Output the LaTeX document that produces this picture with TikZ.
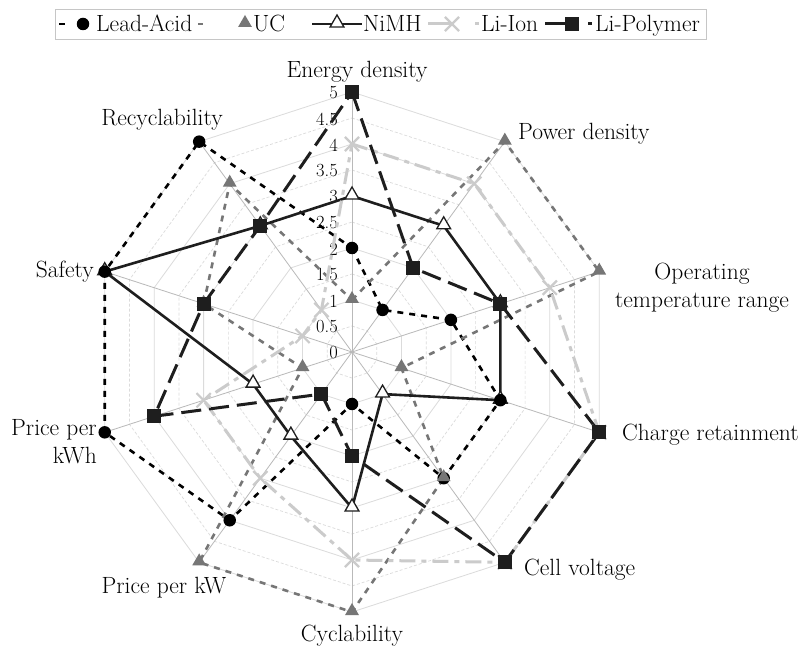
\documentclass[tikz,border=0pt]{standalone}
\usetikzlibrary{shapes.geometric,shapes.misc}
\definecolor{ucgray}{HTML}{767676}
\definecolor{lightgr}{HTML}{CBCBCB}
\definecolor{dark}{HTML}{1E1E1E}
\begin{document}
\begin{tikzpicture}[x=1pt,y=1pt,
  lbl/.style={inner sep=0pt,font=\fontsize{23.5}{28}\selectfont},
  tick/.style={inner sep=0pt,anchor=east,font=\fontsize{18.5}{20}\selectfont},
  gridmajor/.style={draw=gray!28,line width=0.8pt},
  gridminor/.style={draw=gray!28,line width=0.7pt,dash pattern=on 3pt off 2pt},
  spoke/.style={draw=gray!55,line width=0.8pt},
  leadline/.style={draw=black,line width=2.6pt,dash pattern=on 6pt off 6pt},
  ucline/.style={draw=ucgray,line width=2.6pt,dash pattern=on 6pt off 6pt},
  nimhline/.style={draw=dark,line width=2.6pt},
  lionline/.style={draw=lightgr,line width=3pt,dash pattern=on 16pt off 6pt on 5pt off 6pt},
  lipline/.style={draw=dark,line width=3pt,dash pattern=on 20pt off 8pt},
  leadmark/.style={circle,fill=black,minimum size=12.5pt,inner sep=0pt},
  ucmark/.style={regular polygon,regular polygon sides=3,fill=ucgray,minimum size=16pt,inner sep=0pt},
  nimhmark/.style={regular polygon,regular polygon sides=3,draw=dark,fill=white,line width=1.3pt,minimum size=16pt,inner sep=0pt},
  lionmark/.style={cross out,draw=lightgr,line width=2.2pt,minimum size=12pt,inner sep=0pt},
  lipmark/.style={rectangle,fill=dark,minimum size=14pt,inner sep=0pt}
]
\fill[white] (0,0) rectangle (803,648);
\useasboundingbox (0,0) rectangle (803,648);

% ---------- legend ----------
\draw[gray!45,line width=0.8pt] (55,609) rectangle (706,639);
\draw[leadline,dash pattern=] (59,624) -- (65,624);
\node[leadmark] (lgLA) at (83,624) {};
\node[lbl,anchor=base west] (lgLAt) at (96,616) {Lead-Acid};
\draw[ucline,dash pattern=] (198,624) -- (203,624);
\node[ucmark] (lgUC) at (245,625) {};
\node[lbl,anchor=base west] (lgUCt) at (253,616) {UC};
\coordinate (lgNa) at (312,624);
\coordinate (lgNb) at (362,624);
\draw[nimhline] (lgNa) -- (lgNb);
\node[nimhmark] (lgNI) at (337,625) {};
\node[lbl,anchor=base west] (lgNIt) at (363,616) {NiMH};
\coordinate (lgIa) at (428,624);
\coordinate (lgIb) at (450,624);
\draw[lionline,dash pattern=] (lgIa) -- (lgIb);
\node[lionmark] (lgLI) at (452,624) {};
\draw[lionline,dash pattern=] (475,624) -- (479,624);
\node[lbl,anchor=base west] (lgLIt) at (481,616) {Li-Ion};
\coordinate (lgPa) at (545,624);
\coordinate (lgPb) at (568,624);
\draw[lipline,dash pattern=] (lgPa) -- (lgPb);
\node[lipmark] (lgLP) at (572,624) {};
\draw[lipline,dash pattern=] (588,624) -- (592,624);
\node[lbl,anchor=base west] (lgLPt) at (595,616) {Li-Polymer};

% ---------- axis labels ----------
\node[lbl,anchor=base] (axE) at (357,570) {Energy density};
\node[lbl,anchor=base west] (axP) at (518,508) {Power density};
\node[lbl,anchor=center,align=center] (axT) at (702,360) {Operating\\temperature range};
\node[lbl,anchor=base west] (axC) at (622,207) {Charge retainment};
\node[lbl,anchor=base west] (axV) at (524,72) {Cell voltage};
\node[lbl,anchor=base] (axY) at (352,7) {Cyclability};
\node[lbl,anchor=base] (axKW) at (164,55) {Price per kW};
\node[lbl,anchor=east,align=right] (axKWh) at (97,206) {Price per\\kWh};
\node[lbl,anchor=base east] (axS) at (94,370) {Safety};
\node[lbl,anchor=base] (axR) at (162,522) {Recyclability};

\begin{scope}[shift={(352,296)}]
  % grid
  \foreach \r in {0.5,1.5,2.5,3.5,4.5}
    \draw[gridminor] (90:{\r*52}) \foreach \k in {1,...,9} { -- ({90-36*\k}:{\r*52}) } -- cycle;
  \foreach \r in {1,2,3,4,5}
    \draw[gridmajor] (90:{\r*52}) \foreach \k in {1,...,9} { -- ({90-36*\k}:{\r*52}) } -- cycle;
  \foreach \k in {0,...,9}
    \draw[spoke] (0,0) -- ({90-36*\k}:260);
  % ticks
  \foreach \t/\lab in {0/0,0.5/0.5,1/1,1.5/1.5,2/2,2.5/2.5,3/3,3.5/3.5,4/4,4.5/4.5,5/5}
    \node[tick] at (-14,{\t*52-1}) {\lab};

  % data coordinates
  \foreach \v [count=\i from 0] in {2,1,2,3,3,1,4,5,5,5}
    \coordinate (LA\i) at ({90-36*\i}:{\v*52});
  \foreach \v [count=\i from 0] in {1,5,5,1,3,5,5,1,3,4}
    \coordinate (UC\i) at ({90-36*\i}:{\v*52});
  \foreach \v [count=\i from 0] in {3,3,3,3,1,3,2,2,5,3}
    \coordinate (NI\i) at ({90-36*\i}:{\v*52});
  \foreach \v [count=\i from 0] in {4,4,4,5,5,4,3,3,1,1}
    \coordinate (LI\i) at ({90-36*\i}:{\v*52});
  \foreach \v [count=\i from 0] in {5,2,3,5,5,2,1,4,3,3}
    \coordinate (LP\i) at ({90-36*\i}:{\v*52});

  % lines
  \draw[leadline] (LA0) -- (LA1) -- (LA2) -- (LA3) -- (LA4) -- (LA5) -- (LA6) -- (LA7) -- (LA8) -- (LA9) -- cycle;
  \draw[ucline] (UC0) -- (UC1) -- (UC2) -- (UC3) -- (UC4) -- (UC5) -- (UC6) -- (UC7) -- (UC8) -- (UC9) -- cycle;
  \draw[nimhline] (NI0) -- (NI1) -- (NI2) -- (NI3) -- (NI4) -- (NI5) -- (NI6) -- (NI7) -- (NI8) -- (NI9) -- cycle;
  \draw[lionline] (LI0) -- (LI1) -- (LI2) -- (LI3) -- (LI4) -- (LI5) -- (LI6) -- (LI7) -- (LI8) -- (LI9) -- cycle;
  \draw[lipline] (LP0) -- (LP1) -- (LP2) -- (LP3) -- (LP4) -- (LP5) -- (LP6) -- (LP7) -- (LP8) -- (LP9) -- cycle;

  % markers
  \foreach \i in {0,...,9} \node[nimhmark] at ([yshift=1pt]NI\i) {};
  \foreach \i in {0,...,9} \node[leadmark] at (LA\i) {};
  \foreach \i in {0,...,9} \node[ucmark] at ([yshift=1pt]UC\i) {};
  \foreach \i in {0,...,9} \node[lionmark] at (LI\i) {};
  \foreach \i in {0,...,9} \node[lipmark] at (LP\i) {};
\end{scope}
\end{tikzpicture}
\end{document}
